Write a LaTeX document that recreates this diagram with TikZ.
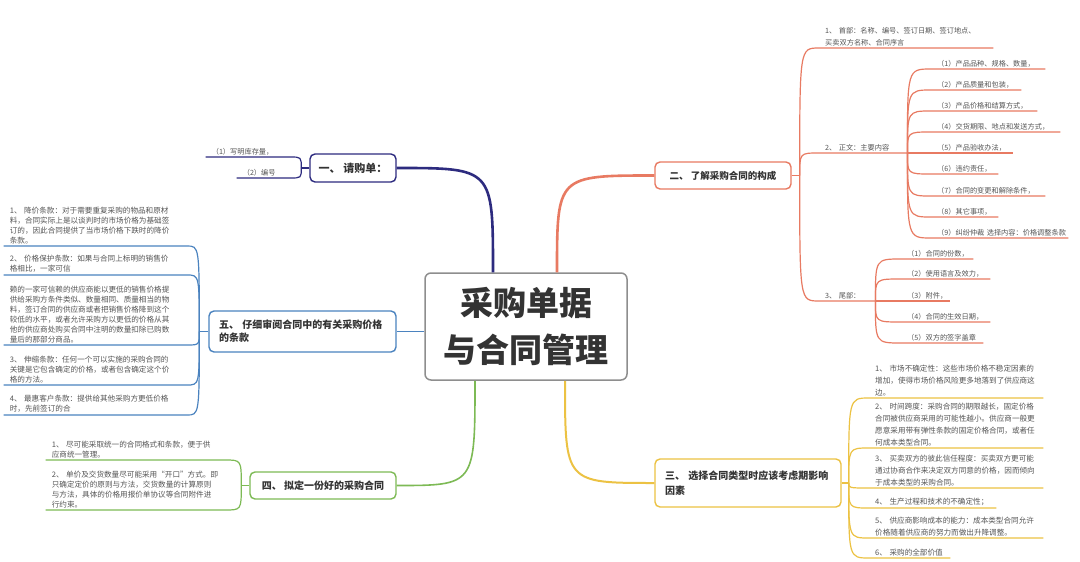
\documentclass[tikz,border=0pt]{standalone}
\usepackage{fontspec}
\setmainfont{Noto Sans CJK SC}
\usepackage{tikz}
\definecolor{ink}{HTML}{333333}
\definecolor{note}{HTML}{555555}
\definecolor{frame}{HTML}{8E8E8E}
\definecolor{navy}{HTML}{2D2B7F}
\definecolor{salmon}{HTML}{E87A62}
\definecolor{gold}{HTML}{ECC243}
\definecolor{grass}{HTML}{7DBA55}
\definecolor{steel}{HTML}{4B83BF}

\begin{document}
\begin{tikzpicture}[x=1pt,y=-1pt,
  topic/.style={draw=#1,line width=1.4pt,rounded corners=5pt,fill=white,text=ink,
    font=\bfseries\fontsize{10}{15}\selectfont,inner sep=0pt,align=left},
  twig/.style={inner xsep=6pt,inner ysep=2pt,align=left,text=note,text width=#1,
    font=\fontsize{7.2}{12}\selectfont},
  dense/.style={font=\fontsize{7.6}{10}\selectfont},
  elbow/.style={to path={.. controls (\tikztostart |- \tikztotarget) and (\tikztostart |- \tikztotarget) .. (\tikztotarget)}},
  sweep/.style={to path={.. controls (\tikztostart |- \tikztotarget) .. (\tikztotarget)}}]
\path[use as bounding box,fill=white] (0,0) rectangle (1080,562);

\node[draw=frame,line width=1.5pt,rounded corners=6pt,fill=white,minimum width=202pt,minimum height=107pt,
  align=center,text=ink,font=\bfseries\fontsize{33}{47}\selectfont] (root) at (526,326.5) {采购单据\\与合同管理};
\node[topic=navy,minimum width=86pt,minimum height=28pt,font=\bfseries\fontsize{11}{15}\selectfont] (one) at (353,168) {一、~请购单：};
\node[topic=salmon,minimum width=136pt,minimum height=27pt,font=\bfseries\fontsize{9.5}{14}\selectfont] (two) at (723,175.5) {二、~了解采购合同的构成};
\node[topic=gold,minimum width=186pt,minimum height=48pt,text width=166pt] (three) at (748,483) {三、~选择合同类型时应该考虑期影响\\因素};
\node[topic=grass,minimum width=146pt,minimum height=27pt] (four) at (323,485.5) {四、~拟定一份好的采购合同};
\node[topic=steel,minimum width=187pt,minimum height=41pt,text width=167pt,font=\bfseries\fontsize{10}{13}\selectfont] (five) at (302.5,331.5) {五、~仔细审阅合同中的有关采购价格\\的条款};

\draw[navy,line width=2.6pt] ([xshift=-33pt]root.north) to[sweep] (one.east);
\draw[salmon,line width=2.6pt] ([xshift=31pt]root.north) to[sweep] (two.west);
\draw[gold,line width=2pt] ([xshift=39pt]root.south) to[sweep] (three.west);
\draw[grass,line width=1.6pt] ([xshift=-51pt]root.south) to[sweep] (four.east);
\draw[steel,line width=1.5pt] (five.east -| root.west) -- (five.east);

\coordinate (f1) at ([xshift=-8pt]one.west);
\draw[navy,line width=1.2pt] (one.west) -- (f1);
\node[twig=72pt,anchor=south east] (h1) at (290,157) {（1）写明库存量，};
\node[twig=41pt,anchor=south east] (h2) at (290,178) {（2）编号};
\foreach \k in {h1,h2} \draw[navy,line width=1.2pt] (f1) to[elbow] (\k.south east) -- (\k.south west);

\coordinate (f2) at ([xshift=8pt]two.east);
\draw[salmon,line width=1.2pt] (two.east) -- (f2);
\node[twig=162pt,anchor=south west] (a1) at (819,48) {1、~首部：名称、编号、签订日期、签订地点、\\买卖双方名称、合同序言};
\node[twig=76pt,anchor=south west] (a2) at (819,153) {2、~正文：主要内容};
\node[twig=44pt,anchor=south west] (a3) at (819,301) {3、~尾部：};
\foreach \k in {a1,a2,a3} \draw[salmon,line width=1.2pt] (f2) to[elbow] (\k.south west) -- (\k.south east);
\foreach \n/\y/\w/\txt in {1/69/102/（1）产品品种、规格、数量，,
  2/90/78/（2）产品质量和包装，,
  3/111/94/（3）产品价格和结算方式，,
  4/132/117/（4）交货期限、地点和发送方式，,
  5/153/70/（5）产品验收办法，,
  6/174/55/（6）违约责任，,
  7/196/102/（7）合同的变更和解除条件，,
  8/217/55/（8）其它事项，,
  9/238/125/（9）纠纷仲裁~选择内容：价格调整条款}{
  \node[twig=\w pt,anchor=south west] (b\n) at (931,\y) {\txt};
  \draw[salmon,line width=1.2pt] (a2.south east) to[elbow] (b\n.south west) -- (b\n.south east);
}
\foreach \n/\y/\w/\txt in {1/259/60/（1）合同的份数，,
  2/279/77/（2）使用语言及效力，,
  3/301/37/（3）附件，,
  4/322/77/（4）合同的生效日期，,
  5/343/70/（5）双方的签字盖章}{
  \node[twig=\w pt,anchor=south west] (c\n) at (901,\y) {\txt};
  \draw[salmon,line width=1.2pt] (a3.south east) to[elbow] (c\n.south west) -- (c\n.south east);
}

\coordinate (f3) at ([xshift=7pt]three.east);
\draw[gold,line width=1.2pt] (three.east) -- (f3);
\foreach \n/\y/\w/\txt in {1/398/162/{1、~市场不确定性：这些市场价格不稳定因素的\\增加，使得市场价格风险更多地落到了供应商这\\边。},
  2/448/162/{2、~时间跨度：采购合同的期限越长，固定价格\\合同被供应商采用的可能性越小。供应商一般更\\愿意采用带有弹性条款的固定价格合同，或者任\\何成本类型合同。},
  3/488/162/{3、~买卖双方的彼此信任程度：买卖双方更可能\\通过协商合作来决定双方同意的价格，因而倾向\\于成本类型的采购合同。},
  4/508/115/{4、~生产过程和技术的不确定性；},
  5/538/162/{5、~供应商影响成本的能力：成本类型合同允许\\价格随着供应商的努力而做出升降调整。},
  6/558/69/{6、~采购的全部价值}}{
  \node[twig=\w pt,anchor=south west,font=\fontsize{7.6}{12}\selectfont] (d\n) at (869,\y) {\txt};
  \draw[gold,line width=1.2pt] (f3) to[elbow] (d\n.south west) -- (d\n.south east);
}

\coordinate (f4) at ([xshift=-8pt]four.west);
\draw[grass,line width=1.2pt] (four.west) -- (f4);
\node[twig=167pt,dense,anchor=south east] (g1) at (225,460) {1、~尽可能采取统一的合同格式和条款，便于供\\应商统一管理。};
\node[twig=167pt,dense,anchor=south east] (g2) at (225,510) {2、~单价及交货数量尽可能采用“开口”方式。即\\只确定定价的原则与方法，交货数量的计算原则\\与方法，具体的价格用报价单协议等合同附件进\\行约束。};
\foreach \k in {g1,g2} \draw[grass,line width=1.2pt] (f4) to[elbow] (\k.south east) -- (\k.south west);

\coordinate (f5) at ([xshift=-9pt]five.west);
\draw[steel,line width=1.2pt] (five.west) -- (f5);
\foreach \n/\y/\txt in {1/246/{1、~降价条款：对于需要重复采购的物品和原材\\料，合同实际上是以谈判时的市场价格为基础签\\订的，因此合同提供了当市场价格下跌时的降价\\条款。},
  2/275/{2、~价格保护条款：如果与合同上标明的销售价\\格相比，一家可信},
  3/345/{赖的一家可信赖的供应商能以更低的销售价格提\\供给采购方条件类似、数量相同、质量相当的物\\料，签订合同的供应商或者把销售价格降到这个\\较低的水平，或者允许采购方以更低的价格从其\\他的供应商处购买合同中注明的数量扣除已购数\\量后的那部分商品。},
  4/385/{3、~伸缩条款：任何一个可以实施的采购合同的\\关键是它包含确定的价格，或者包含确定这个价\\格的方法。},
  5/415/{4、~最惠客户条款：提供给其他采购方更低价格\\时，先前签订的合}}{
  \node[twig=171pt,dense,anchor=south east] (e\n) at (187,\y) {\txt};
  \draw[steel,line width=1.2pt] (f5) to[elbow] (e\n.south east) -- (e\n.south west);
}
\end{tikzpicture}
\end{document}
